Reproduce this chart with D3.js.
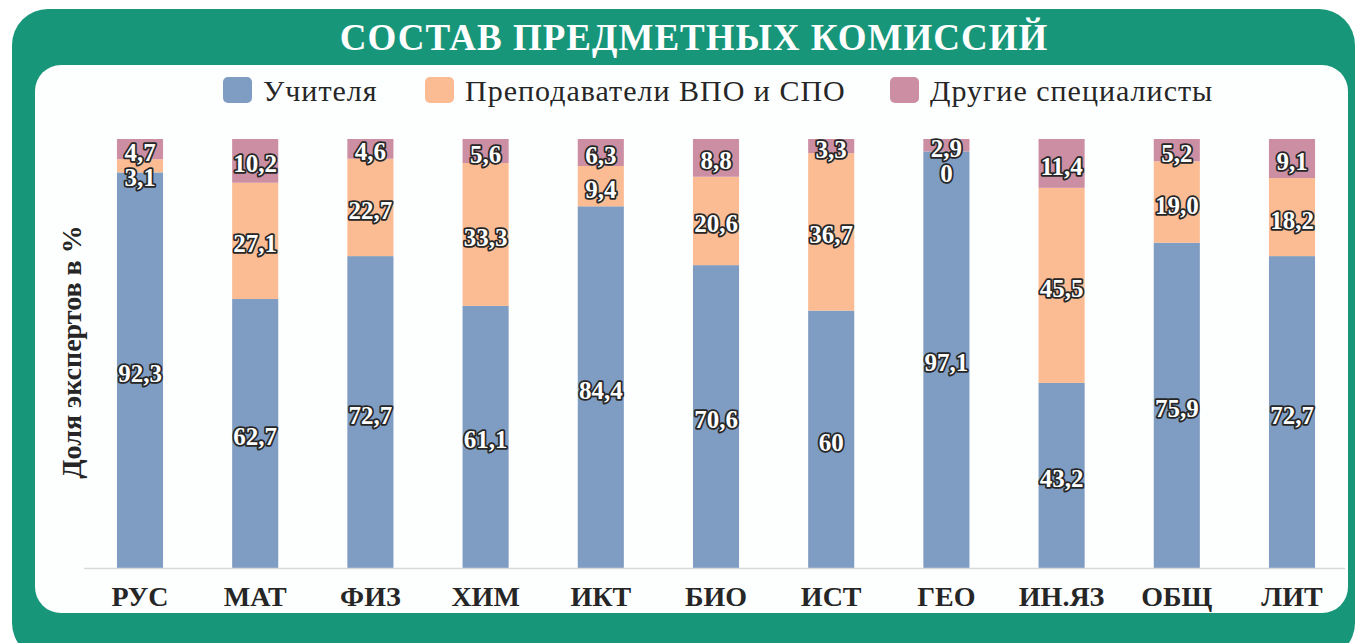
<!DOCTYPE html>
<html><head><meta charset="utf-8">
<script src="https://cdn.jsdelivr.net/npm/d3@7"></script>
<style>html,body{margin:0;padding:0;background:#fff;}svg{display:block;}</style>
</head><body>
<svg id="c" width="1355" height="643"></svg>
<script>
const title = "СОСТАВ ПРЕДМЕТНЫХ КОМИССИЙ";
const yTitle = "Доля экспертов в %";
const categories = ["РУС","МАТ","ФИЗ","ХИМ","ИКТ","БИО","ИСТ","ГЕО","ИН.ЯЗ","ОБЩ","ЛИТ"];
const seriesNames = ["Учителя","Преподаватели ВПО и СПО","Другие специалисты"];
const teachers  = ["92,3","62,7","72,7","61,1","84,4","70,6","60","97,1","43,2","75,9","72,7"];
const lecturers = ["3,1","27,1","22,7","33,3","9,4","20,6","36,7","0","45,5","19,0","18,2"];
const others    = ["4,7","10,2","4,6","5,6","6,3","8,8","3,3","2,9","11,4","5,2","9,1"];
const colors = ["#7f9dc3","#fbbb93","#cc8ea3"];

const num = s => +s.replace(",", ".");
const rows = categories.map((c, i) => ({
  cat: c,
  [seriesNames[0]]: num(teachers[i]),
  [seriesNames[1]]: num(lecturers[i]),
  [seriesNames[2]]: num(others[i]),
  lbl: [teachers[i], lecturers[i], others[i]]
}));

const svg = d3.select("#c");
const serif = "'Liberation Serif','Times New Roman',serif";

// frame
svg.append("rect").attr("x", 12).attr("y", 9).attr("width", 1343).attr("height", 650)
  .attr("rx", 36).attr("fill", "#18967a");
svg.append("rect").attr("x", 35).attr("y", 65).attr("width", 1313).attr("height", 548)
  .attr("rx", 26).attr("fill", "#fdfefe");

svg.append("text").attr("x", 694).attr("y", 50).attr("text-anchor", "middle")
  .attr("font-family", serif).attr("font-weight", "bold").attr("font-size", 37)
  .attr("letter-spacing", 1).attr("fill", "#ffffff").text(title);

// legend
const legendX = [223, 425, 890];
const lg = svg.append("g");
seriesNames.forEach((n, i) => {
  lg.append("rect").attr("x", legendX[i]).attr("y", 77).attr("width", 29).attr("height", 26)
    .attr("rx", 5).attr("fill", colors[i]);
  lg.append("text").attr("x", legendX[i] + 40).attr("y", 101)
    .attr("font-family", serif).attr("font-size", 30).attr("letter-spacing", 1)
    .attr("fill", "#262626").text(n);
});

const x = d3.scaleBand().domain(categories).range([82.4, 1349.6]).paddingInner(0.6).paddingOuter(0.3);
const y = d3.scaleLinear().domain([0, 1]).range([568, 139]);

const stack = d3.stack().keys(seriesNames).offset(d3.stackOffsetExpand);
const series = stack(rows);

const bars = svg.append("g");
series.forEach((s, si) => {
  bars.selectAll(null).data(s).enter().append("rect")
    .attr("x", d => x(d.data.cat))
    .attr("width", x.bandwidth())
    .attr("y", d => y(d[1]))
    .attr("height", d => Math.max(0, y(d[0]) - y(d[1])))
    .attr("fill", colors[si]);
});

// axis
const xAxis = svg.append("g").attr("transform", "translate(0,568)")
  .call(d3.axisBottom(x).tickSize(0).tickPadding(18));
xAxis.select(".domain").attr("d", "M84,0.5H1345").attr("stroke", "#d9d9d9").attr("stroke-width", 1.5);
xAxis.selectAll("text").attr("font-family", serif).attr("font-weight", "bold")
  .attr("font-size", 28).attr("fill", "#262626").attr("dy", "0.71em");

// y title
svg.append("text").attr("transform", "translate(81,352) rotate(-90)")
  .attr("text-anchor", "middle").attr("font-family", serif).attr("font-weight", "bold")
  .attr("font-size", 28).attr("fill", "#262626").text(yTitle);

// labels
const lab = svg.append("g");
categories.forEach((c, ci) => {
  let prev = -Infinity;
  for (let si = series.length - 1; si >= 0; si--) {
    const d = series[si][ci];
    let cy = (y(d[0]) + y(d[1])) / 2 + 3;
    cy = Math.max(cy, prev + 25);
    prev = cy;
    lab.append("text").attr("x", x(c) + x.bandwidth() / 2).attr("y", cy)
      .attr("text-anchor", "middle").attr("dominant-baseline", "central")
      .attr("font-family", serif).attr("font-weight", "bold").attr("font-size", 25)
      .attr("fill", "#ffffff").attr("stroke", "#262626").attr("stroke-width", 3.5)
      .attr("stroke-linejoin", "round").attr("paint-order", "stroke")
      .text(d.data.lbl[si]);
  }
});
</script>
</body></html>
